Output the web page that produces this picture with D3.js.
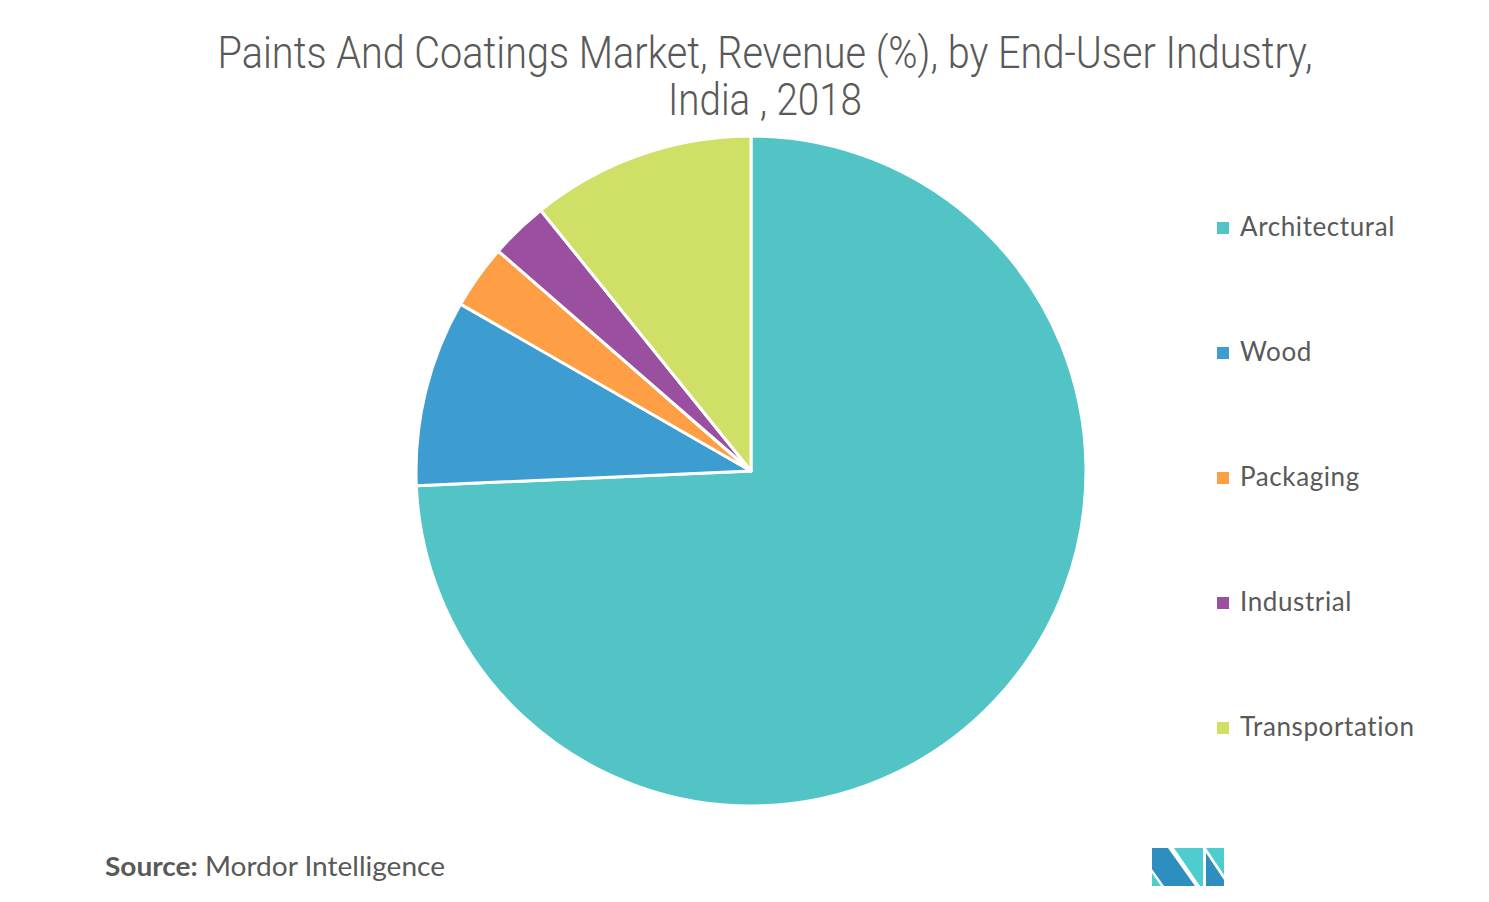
<!DOCTYPE html>
<html><head><meta charset="utf-8">
<script src="https://cdn.jsdelivr.net/npm/d3@7"></script>
<style>body{margin:0;background:#fff}svg{display:block}</style>
</head><body>
<svg id="c" width="1489" height="902"></svg>
<script>
const categories = ["Architectural","Wood","Packaging","Industrial","Transportation"];
const values = [74.3, 9.0, 3.1, 2.8, 10.8];
const colors = ["#52C4C6","#3D9DD0","#FE9F45","#9B4F9F","#D0E067"];
const titleLines = ["Paints And Coatings Market, Revenue (%), by End-User Industry,","India , 2018"];

const svg = d3.select("#c");
const W = 1489, H = 902;
svg.append("rect").attr("width",W).attr("height",H).attr("fill","#fff");

// Title
const t1 = svg.append("text").attr("x",765).attr("y",68).attr("text-anchor","middle")
  .attr("font-family","Roboto").attr("font-weight",300).attr("font-size",44).attr("fill","#595959")
  .text(titleLines[0]);
t1.attr("textLength",1095).attr("lengthAdjust","spacingAndGlyphs");
const t2 = svg.append("text").attr("x",765).attr("y",115).attr("text-anchor","middle")
  .attr("font-family","Roboto").attr("font-weight",300).attr("font-size",44).attr("fill","#595959")
  .text(titleLines[1]);
t2.attr("textLength",194).attr("lengthAdjust","spacingAndGlyphs");

// Pie
const cx = 751, cy = 471, r = 335;
const pie = d3.pie().sort(null).value(d => d)(values);
const arc = d3.arc().innerRadius(0).outerRadius(r);
const color = d3.scaleOrdinal().domain(categories).range(colors);
svg.append("g").attr("transform",`translate(${cx},${cy})`)
  .selectAll("path").data(pie).join("path")
  .attr("d",arc).attr("fill",(d,i)=>color(categories[i]))
  .attr("stroke","#fff").attr("stroke-width",3).attr("stroke-linejoin","round");

// Legend
const ly = d3.scalePoint().domain(categories).range([228,728]);
const lg = svg.append("g");
categories.forEach(c => {
  lg.append("rect").attr("x",1217).attr("y",ly(c)-6).attr("width",12).attr("height",12).attr("fill",color(c));
  lg.append("text").attr("x",1240).attr("y",ly(c)+8).attr("font-family","Lato").attr("font-size",26)
    .attr("letter-spacing",0.6).attr("fill","#595959").text(c);
});

// Source
const s = svg.append("text").attr("x",105).attr("y",876).attr("font-family","Lato").attr("font-size",26).attr("fill","#595959")
  .attr("textLength",340).attr("lengthAdjust","spacingAndGlyphs");
s.append("tspan").attr("font-weight",700).text("Source:");
s.append("tspan").text(" Mordor Intelligence");

// Logo
const logo = svg.append("g");
logo.append("polygon").attr("points","1152,848 1168,848 1195,886 1164,886 1152,869").attr("fill","#2E8EC0");
logo.append("polygon").attr("points","1152,873 1161,886 1152,886").attr("fill","#4ECDD0");
logo.append("polygon").attr("points","1174,848 1203,848 1203,886 1200,886").attr("fill","#4ECDD0");
logo.append("polygon").attr("points","1206,848 1224,848 1224,875").attr("fill","#4ECDD0");
logo.append("polygon").attr("points","1206,853 1224,880 1224,886 1206,886").attr("fill","#2E8EC0");
</script>
</body></html>
